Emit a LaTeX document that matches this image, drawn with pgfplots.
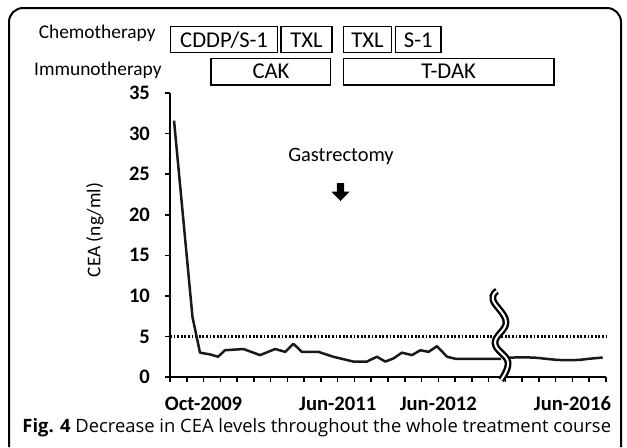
\documentclass[border=0pt]{standalone}
\usepackage{pgfplots}
\pgfplotsset{compat=1.18}
\usepackage{fontspec}
\setmainfont{Carlito}
\newfontfamily\capfont{Open Sans}
\begin{document}
\begin{tikzpicture}
\useasboundingbox (0,0) rectangle (313.5pt,-223.5pt);
\begin{axis}[
  at={(85pt,-188.5pt)}, anchor=south west,
  scale only axis, width=218pt, height=142pt,
  xmin=0, xmax=26, ymin=0, ymax=35,
  axis x line*=bottom, axis y line*=left,
  axis line style={line width=1pt},
  tick align=outside, major tick length=2.5pt,
  every tick/.style={line width=0.8pt, black},
  xtick={0,...,26},
  xticklabels={,,Oct-2009,,,,,,,,Jun-2011,,,,,,Jun-2012,,,,,,,,Jun-2016,,},
  ytick={0,5,...,35},
  tick label style={font=\fontsize{10.3}{11}\selectfont\bfseries},
  yticklabel style={xshift=-4pt},
  xticklabel style={yshift=-3pt, text height=1.6ex, text depth=0.3ex},
  /pgf/number format/assume math mode=true,
  clip=false,
]
\addplot[black, line width=1.1pt, dash pattern=on 0.9pt off 0.9pt] coordinates {(0,5) (26,5)};
\addplot[black!90, line width=1.25pt, line join=round] coordinates {
(0.24,31.6)(1.34,7.4)(1.79,3.0)(2.36,2.8)(2.87,2.5)(3.28,3.3)(4.38,3.45)(5.37,2.7)(6.27,3.45)(6.87,3.1)(7.36,4.1)(7.86,3.1)(8.85,3.1)(9.73,2.5)(10.94,1.9)(11.74,1.9)(12.34,2.5)(12.84,1.9)(13.33,2.3)(13.83,3.0)(14.43,2.7)(14.93,3.3)(15.42,3.1)(15.92,3.8)(16.52,2.5)(17.01,2.25)(19.75,2.25)};
\addplot[black!90, line width=1.25pt, line join=round, smooth] coordinates {
(20.2,2.4)(21.6,2.4)(22.4,2.25)(23.2,2.1)(24.3,2.1)(25.0,2.25)(25.8,2.4)};
\end{axis}
\begin{scope}[x=0.5pt,y=-0.5pt]
\draw[line width=1pt, rounded corners=7pt] (9,447) -- (9,8) -- (621,8) -- (621,447);
% row labels
\node[anchor=base east, inner sep=0pt, font=\fontsize{9.7}{11}\selectfont] at (156,38) {Chemotherapy};
\node[anchor=base east, inner sep=0pt, font=\fontsize{9.7}{11}\selectfont] at (162,75) {Immunotherapy};
% boxes
\tikzset{tbox/.style={line width=0.75pt}, tlab/.style={font=\fontsize{11.3}{12}\selectfont, inner sep=0pt}}
\draw[tbox] (170.5,26.7) rectangle (277.7,52.3); \node[tlab] at (224.1,40) {CDDP/S-1};
\draw[tbox] (280.9,26.7) rectangle (331.9,52.3); \node[tlab] at (306.4,40) {TXL};
\draw[tbox] (343.4,26.7) rectangle (391.6,52.3); \node[tlab] at (367.5,40) {TXL};
\draw[tbox] (395.6,26.7) rectangle (441,52.3); \node[tlab] at (418.3,40) {S-1};
\draw[tbox] (211.2,58.3) rectangle (330.7,85); \node[tlab] at (271,71.5) {CAK};
\draw[tbox] (343.4,58.3) rectangle (553.8,85); \node[tlab] at (448.6,71.5) {T-DAK};
% axis break
\draw[line width=1.2pt, double=white, double distance=1pt] plot[smooth, tension=0.7] coordinates {(497,291) (493,300) (506,322) (495,343) (508,362) (501,380)};
% y label
\node[rotate=90, font=\fontsize{9.7}{11}\selectfont] at (95,230) {CEA (ng/ml)};
% gastrectomy
\node[font=\fontsize{10.2}{11}\selectfont] at (341,157) {Gastrectomy};
\fill (336.8,183) -- (344.2,183) -- (344.2,191.7) -- (349.5,191.7) -- (340.5,201) -- (331.5,191.7) -- (336.8,191.7) -- cycle;
% caption
\node[anchor=base west, inner sep=0pt, font=\capfont\fontsize{9.2}{10}\selectfont] at (22,432) {\textbf{Fig. 4} Decrease in CEA levels throughout the whole treatment course};
\end{scope}
\end{tikzpicture}
\end{document}
